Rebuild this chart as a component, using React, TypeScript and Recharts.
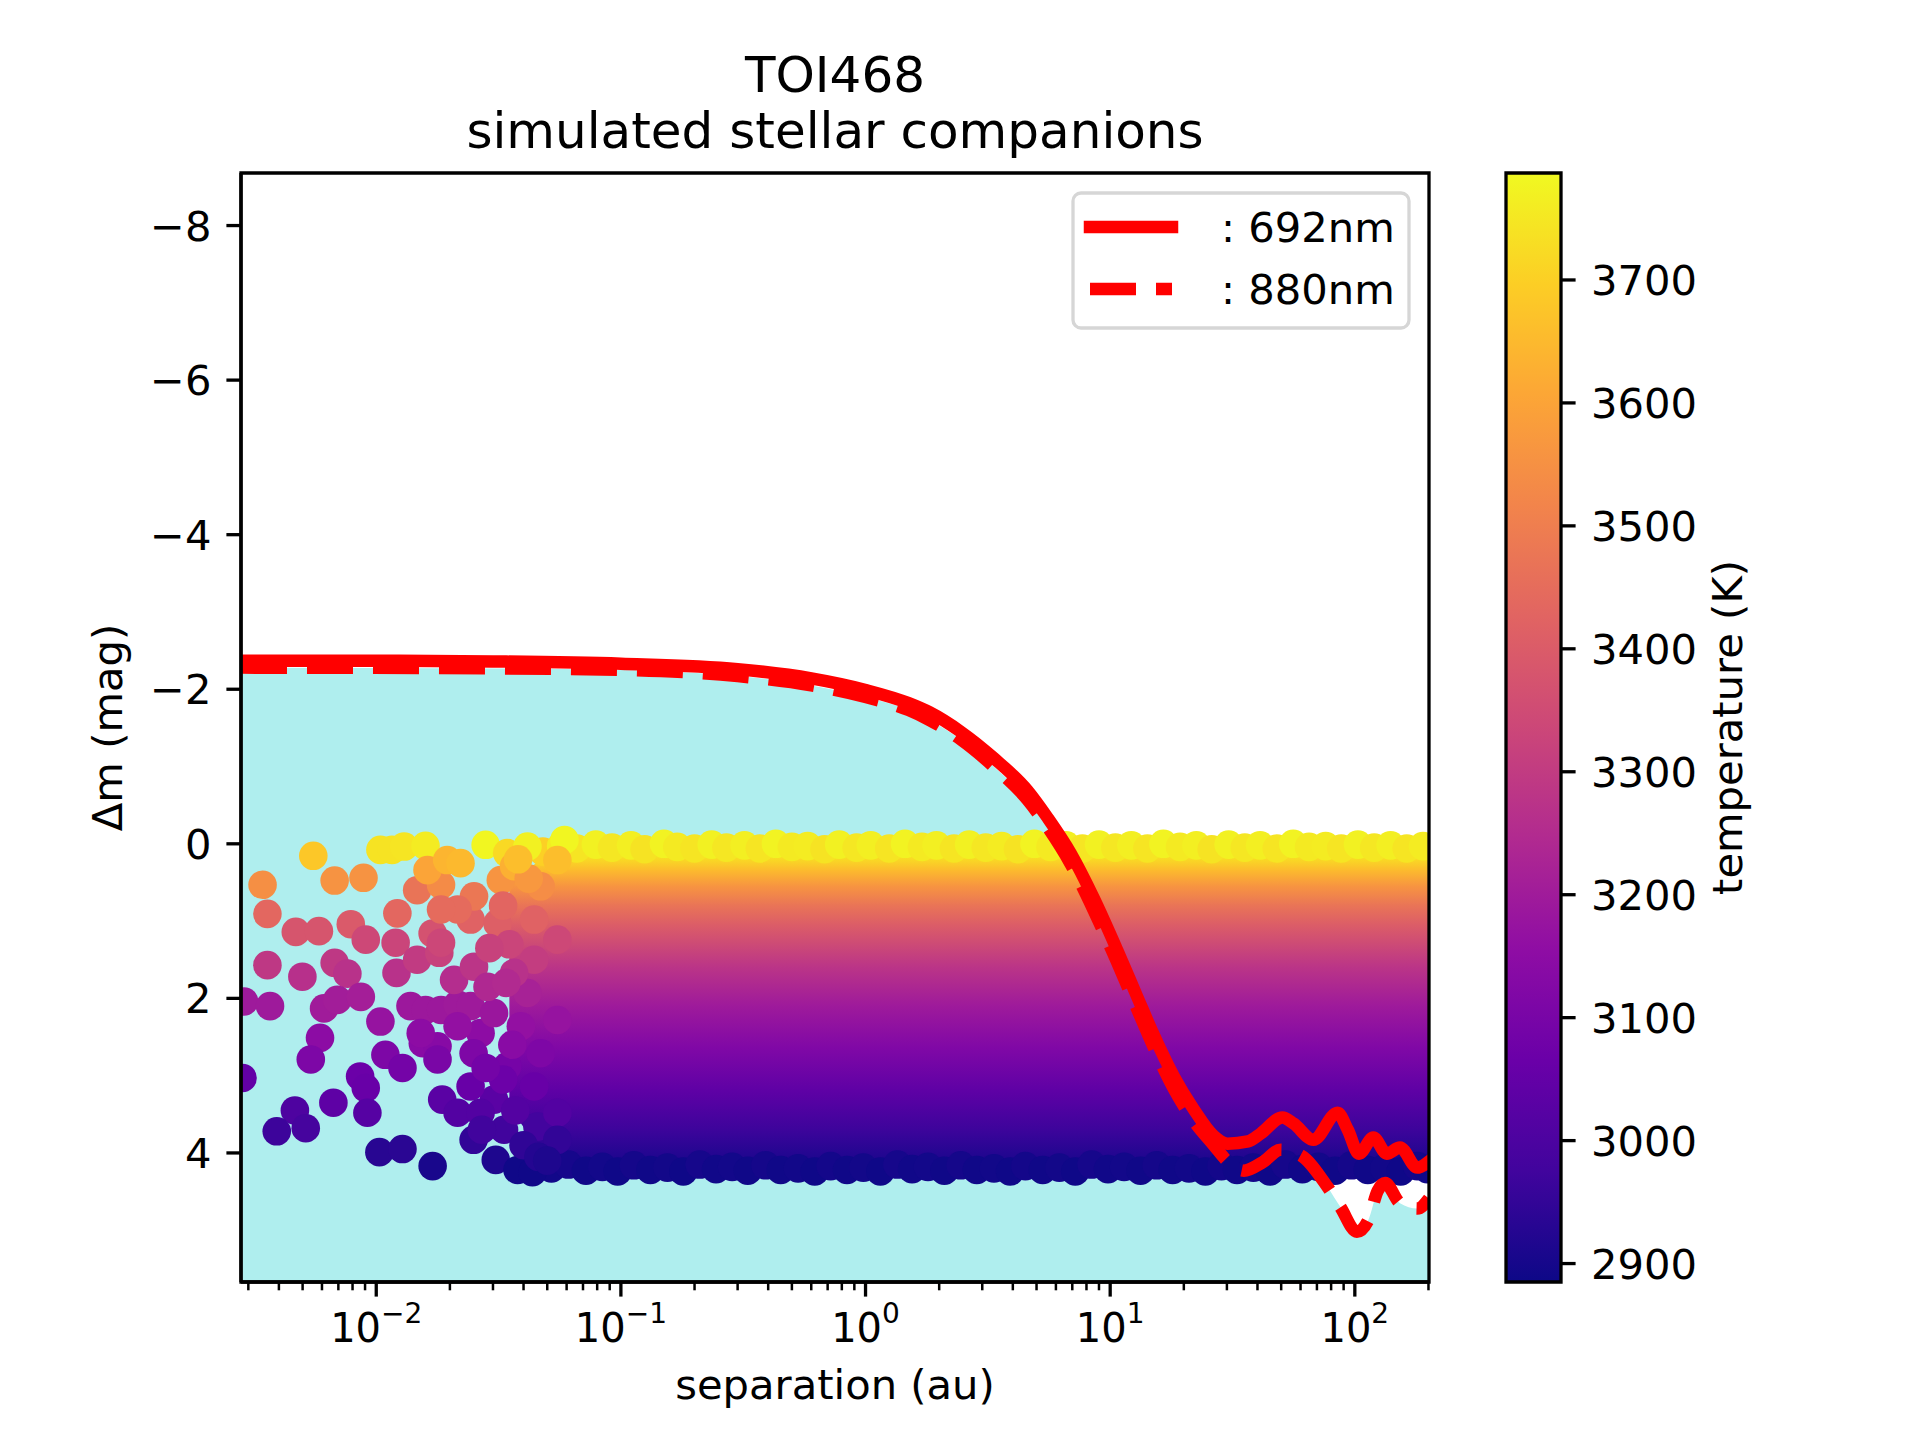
import React from 'react';
import { ComposedChart, Scatter, Line, Area, XAxis, YAxis, ReferenceArea } from 'recharts';

const FONT = "'DejaVu Sans', sans-serif";
const FS = 41.67;

// contrast curve at 692 nm (solid): separation (au) / delta mag
const sep692 = [0.0028, 0.01, 0.03, 0.1, 0.3, 0.6, 1.0, 1.5, 1.83, 2.45, 3.34, 4.59, 5.54, 6.89, 8.56, 10.7, 12.9, 15.0, 18.2, 21.9, 26.5, 30.2, 36.6, 41.2, 50.6, 56.2, 67.7, 85, 93.6, 104, 119, 135, 153, 180, 201];
const dm692 = [-2.37, -2.37, -2.36, -2.33, -2.26, -2.14, -1.99, -1.82, -1.7, -1.45, -1.11, -0.69, -0.34, 0.12, 0.7, 1.38, 1.98, 2.46, 3.01, 3.43, 3.78, 3.88, 3.85, 3.75, 3.54, 3.62, 3.83, 3.48, 3.7, 4.01, 3.8, 4.01, 3.93, 4.19, 4.11];

// contrast curve at 880 nm (dashed)
const sep880 = [0.0028, 0.03, 0.1, 0.3, 0.6, 1.0, 1.5, 1.83, 2.45, 3.34, 4.59, 5.54, 6.89, 8.56, 10.7, 12.9, 15.0, 18.2, 21.9, 26.5, 30, 35.2, 42, 49.8, 60, 77.3, 87.3, 102, 113.5, 124, 133, 153, 180, 201];
const dm880 = [-2.28, -2.27, -2.25, -2.17, -2.05, -1.9, -1.73, -1.6, -1.35, -1.0, -0.57, -0.22, 0.26, 0.86, 1.54, 2.14, 2.62, 3.17, 3.58, 3.9, 4.1, 4.23, 4.12, 3.96, 4.03, 4.44, 4.7, 5.02, 4.87, 4.49, 4.39, 4.65, 4.72, 4.59];

// simulated companions, sparse part at small separations
const sparseSep = [0.00553, 0.00343, 0.00676, 0.00887, 0.00359, 0.00469, 0.00583, 0.00787, 0.00906, 0.00676, 0.00359, 0.00499, 0.00762, 0.00612, 0.00288, 0.00368, 0.00693, 0.00865, 0.0104, 0.012, 0.0121, 0.0122, 0.0104, 0.0116, 0.013, 0.0159, 0.00589, 0.0054, 0.00859, 0.00906, 0.00668, 0.0092, 0.00465, 0.00515, 0.00392, 0.0103, 0.0128, 0.017, 0.00284, 0.0109, 0.0128, 0.0155, 0.0178, 0.0138, 0.0159, 0.0184, 0.0215, 0.0147, 0.0181, 0.017, 0.0147, 0.0184, 0.0162, 0.0195, 0.0221, 0.028, 0.0343, 0.0588, 0.0186, 0.0215, 0.025, 0.0308, 0.0378, 0.0435, 0.0333, 0.0456, 0.0303, 0.0178, 0.0267, 0.0243, 0.0303, 0.0208, 0.0251, 0.0184, 0.0243, 0.0313, 0.0251, 0.0323, 0.0442, 0.0442, 0.0415, 0.039, 0.0343, 0.047, 0.0442, 0.055, 0.055, 0.055, 0.047, 0.055, 0.055, 0.0152, 0.0366, 0.0285, 0.0215, 0.025, 0.0243, 0.0267, 0.0366, 0.0415, 0.0215, 0.0184, 0.033, 0.035, 0.034, 0.036, 0.033, 0.037, 0.04, 0.042, 0.038, 0.046, 0.05, 0.029, 0.028, 0.027];
const sparseDm = [0.155, 0.53, 0.475, 0.44, 0.906, 1.14, 1.13, 1.04, 1.24, 1.54, 1.57, 1.72, 1.68, 2.13, 2.04, 2.1, 2.02, 1.98, 2.3, 1.28, 1.67, 0.9, 0.078, 0.078, 0.035, 0.026, 2.51, 2.79, 3.01, 3.16, 3.35, 3.48, 3.45, 3.68, 3.72, 3.99, 3.95, 4.17, 3.03, 2.73, 2.9, 2.58, 2.62, 2.1, 2.15, 2.15, 2.08, 1.5, 1.41, 1.16, 0.6, 0.53, 0.34, 0.21, 0.25, 0.013, 0.12, -0.05, 3.31, 3.48, 3.83, 4.09, 4.22, 4.25, 3.7, 3.66, 3.31, 2.79, 2.45, 2.1, 2.19, 1.76, 1.59, 1.28, 0.98, 1.03, 0.68, 0.47, 0.98, 1.5, 1.93, 2.36, 2.88, 2.71, 3.14, 3.48, 3.83, 0.21, 0.55, 2.28, 1.24, 2.45, 1.67, 1.85, 2.36, 2.71, 3.14, 3.48, 0.29, 0.035, 0.85, 0.85, 0.8, 1.3, 1.8, 2.6, 3.05, 3.45, 3.9, 0.45, 0.2, 4.05, 4.1, 1.35, 2.9, 3.7];
const sparseTemp = [3680, 3545, 3555, 3555, 3435, 3380, 3380, 3395, 3340, 3290, 3290, 3265, 3270, 3200, 3195, 3195, 3205, 3210, 3175, 3330, 3270, 3435, 3740, 3740, 3745, 3760, 3148, 3112, 3067, 3060, 3040, 3022, 3003, 2986, 2968, 2932, 2935, 2905, 3050, 3112, 3090, 3140, 3135, 3190, 3190, 3190, 3195, 3300, 3320, 3370, 3470, 3535, 3600, 3640, 3650, 3780, 3720, 3780, 3030, 3015, 2950, 2915, 2890, 2890, 2975, 2980, 3030, 3105, 3150, 3195, 3185, 3255, 3280, 3335, 3420, 3410, 3480, 3560, 3420, 3305, 3220, 3165, 3095, 3115, 3060, 3015, 2950, 3660, 3540, 3175, 3340, 3150, 3270, 3240, 3165, 3115, 3060, 3015, 3630, 3770, 3445, 3445, 3430, 3330, 3245, 3140, 3070, 3018, 2945, 3570, 3660, 2925, 2915, 3320, 3090, 2975];

// upper edge of the dense cloud (brightest, hottest companions)
const topSep = [0.048, 0.057, 0.066, 0.079, 0.092, 0.11, 0.125, 0.15, 0.17, 0.2, 0.235, 0.27, 0.32, 0.37, 0.43, 0.5, 0.58, 0.68, 0.78, 0.92, 1.05, 1.25, 1.45, 1.7, 1.95, 2.3, 2.65, 3.1, 3.6, 4.2, 4.9, 5.7, 6.6, 7.7, 9.0, 10.5, 12.2, 14.2, 16.5, 19.3, 22.5, 26, 30.5, 35.5, 41, 48, 56, 65, 76, 88, 103, 120, 140, 163, 190];
const topDm = [0.1, 0.03, 0.06, 0.01, 0.05, 0.02, 0.07, 0.0, 0.04, 0.06, 0.01, 0.05, 0.02, 0.06, 0.0, 0.04, 0.03, 0.07, 0.01, 0.05, 0.02, 0.06, 0.0, 0.04, 0.02, 0.06, 0.01, 0.05, 0.03, 0.07, 0.0, 0.04, 0.02, 0.06, 0.01, 0.05, 0.02, 0.06, 0.0, 0.04, 0.02, 0.07, 0.01, 0.05, 0.02, 0.06, 0.0, 0.04, 0.03, 0.06, 0.01, 0.05, 0.02, 0.06, 0.03];
const topTemp = [3700, 3760, 3745, 3770, 3750, 3765, 3740, 3775, 3755, 3745, 3770, 3750, 3765, 3745, 3775, 3755, 3760, 3740, 3770, 3750, 3765, 3745, 3775, 3755, 3765, 3745, 3770, 3750, 3760, 3740, 3775, 3755, 3765, 3745, 3770, 3750, 3765, 3745, 3775, 3755, 3765, 3740, 3770, 3750, 3765, 3745, 3775, 3755, 3760, 3745, 3770, 3750, 3765, 3745, 3760];

// lower edge of the dense cloud (faintest, coolest companions)
const botSep = [0.052, 0.061, 0.072, 0.084, 0.097, 0.113, 0.132, 0.155, 0.18, 0.21, 0.245, 0.285, 0.33, 0.39, 0.45, 0.53, 0.62, 0.72, 0.84, 0.98, 1.15, 1.35, 1.55, 1.8, 2.1, 2.45, 2.85, 3.35, 3.9, 4.5, 5.3, 6.2, 7.2, 8.4, 9.8, 11.4, 13.3, 15.5, 18, 21, 24.5, 28.5, 33, 38.5, 45, 52, 61, 71, 83, 97, 113, 132, 154, 180, 198];
const botDm = [4.2, 4.15, 4.23, 4.18, 4.24, 4.16, 4.22, 4.19, 4.24, 4.15, 4.21, 4.18, 4.23, 4.16, 4.22, 4.2, 4.24, 4.17, 4.22, 4.19, 4.24, 4.15, 4.21, 4.18, 4.23, 4.16, 4.22, 4.2, 4.24, 4.17, 4.22, 4.19, 4.24, 4.15, 4.21, 4.18, 4.23, 4.16, 4.22, 4.2, 4.24, 4.17, 4.22, 4.19, 4.24, 4.15, 4.21, 4.18, 4.23, 4.16, 4.22, 4.2, 4.24, 4.17, 4.21];
const botTemp = [2893, 2900, 2890, 2896, 2888, 2899, 2891, 2895, 2888, 2900, 2892, 2896, 2890, 2899, 2891, 2893, 2888, 2897, 2891, 2895, 2888, 2900, 2892, 2896, 2890, 2899, 2891, 2893, 2888, 2897, 2891, 2895, 2888, 2900, 2892, 2896, 2890, 2899, 2891, 2893, 2888, 2897, 2891, 2895, 2888, 2900, 2892, 2896, 2890, 2899, 2891, 2893, 2888, 2897, 2892];

// dense core of the cloud between the two edges
const coreSep = [0.035, 0.045, 0.06, 201];
const coreTop = [0.5, 0.25, 0.04, 0.04];
const coreBottom = [3.4, 3.9, 4.18, 4.18];
// temperature seen across the core, by delta mag
const coreStopDm = [0.04, 0.2, 0.35, 0.55, 0.8, 1.06, 1.59, 2.1, 2.64, 3.2, 3.7, 4.18];
const coreStopTemp = [3775, 3720, 3650, 3560, 3470, 3400, 3280, 3195, 3120, 3040, 2968, 2900];

const xMajor = [0.01, 0.1, 1, 10, 100];
const xMinor = [0.003, 0.004, 0.005, 0.006, 0.007, 0.008, 0.009, 0.02, 0.03, 0.04, 0.05, 0.06, 0.07, 0.08, 0.09, 0.2, 0.3, 0.4, 0.5, 0.6, 0.7, 0.8, 0.9, 2, 3, 4, 5, 6, 7, 8, 9, 20, 30, 40, 50, 60, 70, 80, 90, 200];
const yTicks = [-8, -6, -4, -2, 0, 2, 4];
const tempTicks = [2900, 3000, 3100, 3200, 3300, 3400, 3500, 3600, 3700];

const X_MIN = 0.0028;
const X_MAX = 201;
const Y_MIN = -8.68;
const Y_MAX = 5.67;
const T_MIN = 2885;
const T_MAX = 3787;
const DOT_R = 14.3;

const PLASMA = ['#0d0887', '#41049d', '#6a00a8', '#8f0da4', '#b12a90', '#cc4778', '#e16462', '#f2844b', '#fca636', '#fcce25', '#f0f921'];

const hexRgb = (h: string) => [1, 3, 5].map((i) => parseInt(h.slice(i, i + 2), 16));

function plasma(f: number) {
  const x = Math.min(1, Math.max(0, f)) * 10;
  const i = Math.min(9, Math.floor(x));
  const u = x - i;
  const a = hexRgb(PLASMA[i]);
  const b = hexRgb(PLASMA[i + 1]);
  return `rgb(${a.map((v, k) => Math.round(v + (b[k] - v) * u)).join(',')})`;
}

const tempColor = (t: number) => plasma((t - T_MIN) / (T_MAX - T_MIN));

const curve692 = sep692.map((s, i) => ({ sep: s, dm: dm692[i] }));
const curve880 = sep880.map((s, i) => ({ sep: s, dm: dm880[i] }));
const core = coreSep.map((s, i) => ({ sep: s, dm: [coreTop[i], coreBottom[i]] }));
const stars = [
  ...botSep.map((s, i) => ({ sep: s, dm: botDm[i], t: botTemp[i] })),
  ...topSep.map((s, i) => ({ sep: s, dm: topDm[i], t: topTemp[i] })),
  ...sparseSep.map((s, i) => ({ sep: s, dm: sparseDm[i], t: sparseTemp[i] })),
];

const coreLo = Math.min(...coreTop);
const coreHi = Math.max(...coreBottom);

const minus = (v: number) => (v < 0 ? '\u2212' + Math.abs(v) : String(v));

const Dot = (p: any) => {
  const t = p.t ?? p.payload?.t ?? 3300;
  return <circle cx={p.cx} cy={p.cy} r={DOT_R} fill={tempColor(t)} />;
};

const XTick = (p: any) => {
  const v = p.payload.value;
  const major = xMajor.includes(v);
  const exp = Math.round(Math.log10(v));
  return (
    <g>
      <line x1={p.x} x2={p.x} y1={p.y} y2={p.y + (major ? 14.6 : 8.3)} stroke="#000" strokeWidth={major ? 3.3 : 2.5} />
      {major && (
        <text x={p.x} y={p.y + 60} textAnchor="middle" fontFamily={FONT} fontSize={40} fill="#000">
          10
          <tspan dy={-19} fontSize={28}>{minus(exp)}</tspan>
        </text>
      )}
    </g>
  );
};

const YTick = (p: any) => (
  <g>
    <line x1={p.x - 14.6} x2={p.x} y1={p.y} y2={p.y} stroke="#000" strokeWidth={3.3} />
    <text x={p.x - 29.5} y={p.y + 15} textAnchor="end" fontFamily={FONT} fontSize={FS} fill="#000">
      {minus(p.payload.value)}
    </text>
  </g>
);

const CbTick = (p: any) => (
  <g>
    <line x1={p.x} x2={p.x + 14.6} y1={p.y} y2={p.y} stroke="#000" strokeWidth={3.3} />
    <text x={p.x + 30} y={p.y + 15} textAnchor="start" fontFamily={FONT} fontSize={FS} fill="#000">
      {p.payload.value}
    </text>
  </g>
);

const frame = { stroke: '#000', strokeWidth: 3.3 };

export default function App() {
  return (
    <div style={{ position: 'absolute', left: 0, top: 0, width: 1920, height: 1440, background: '#fff', fontFamily: FONT }}>
      <div style={{ position: 'absolute', left: 0, top: 0 }}>
        <ComposedChart width={1920} height={1440} margin={{ top: 173, right: 491, bottom: 0, left: 0 }}>
          <defs>
            <linearGradient id="coreGrad" x1="0" y1="0" x2="0" y2="1">
              {coreStopDm.map((d, i) => (
                <stop key={i} offset={(d - coreLo) / (coreHi - coreLo)} stopColor={tempColor(coreStopTemp[i])} />
              ))}
            </linearGradient>
          </defs>
          <Area data={curve880} dataKey="dm" type="monotone" baseValue={Y_MAX} fill="#afeeee" fillOpacity={1} stroke="none" isAnimationActive={false} zIndex={100} />
          <Area data={core} dataKey="dm" type="linear" fill="url(#coreGrad)" fillOpacity={1} stroke="none" isAnimationActive={false} zIndex={110} />
          <Scatter data={stars} dataKey="dm" shape={Dot} isAnimationActive={false} zIndex={300} />
          <Line data={curve880} dataKey="dm" type="monotone" stroke="#ff0000" strokeWidth={12.5} strokeDasharray="46 20" strokeLinecap="butt" strokeLinejoin="round" dot={false} activeDot={false} isAnimationActive={false} zIndex={400} />
          <Line data={curve692} dataKey="dm" type="monotone" stroke="#ff0000" strokeWidth={12.5} strokeLinecap="square" strokeLinejoin="round" dot={false} activeDot={false} isAnimationActive={false} zIndex={410} />
          <XAxis dataKey="sep" type="number" scale="log" domain={[X_MIN, X_MAX]} allowDataOverflow ticks={[...xMajor, ...xMinor]} interval={0} tick={XTick} tickLine={false} tickSize={0} tickMargin={0} axisLine={frame} height={158} />
          <YAxis type="number" domain={[Y_MIN, Y_MAX]} reversed allowDataOverflow ticks={yTicks} interval={0} tick={YTick} tickLine={false} tickSize={0} tickMargin={0} axisLine={frame} width={241} />
          <ReferenceArea x1={X_MIN} x2={X_MAX} y1={Y_MIN} y2={Y_MAX} ifOverflow="visible" fill="none" fillOpacity={0} stroke="#000" strokeWidth={3.3} zIndex={600} />
        </ComposedChart>
      </div>

      <div style={{ position: 'absolute', left: 0, top: 0 }}>
        <ComposedChart width={1920} height={1440} data={[{ x: 0 }, { x: 1 }]} margin={{ top: 173, right: 59, bottom: 158, left: 1506 }}>
          <defs>
            <linearGradient id="cbGrad" x1="0" y1="1" x2="0" y2="0">
              {PLASMA.map((c, i) => (
                <stop key={i} offset={i / (PLASMA.length - 1)} stopColor={c} />
              ))}
            </linearGradient>
          </defs>
          <XAxis dataKey="x" type="number" domain={[0, 1]} hide height={0} />
          <YAxis orientation="right" type="number" domain={[T_MIN, T_MAX]} allowDataOverflow ticks={tempTicks} interval={0} tick={CbTick} tickLine={false} tickSize={0} tickMargin={0} axisLine={false} width={300} />
          <ReferenceArea y1={T_MIN} y2={T_MAX} fill="url(#cbGrad)" fillOpacity={1} stroke="#000" strokeWidth={3.3} />
        </ComposedChart>
      </div>

      <svg width={1920} height={1440} style={{ position: 'absolute', left: 0, top: 0, pointerEvents: 'none' }} fontFamily={FONT}>
        <text x={835} y={92} textAnchor="middle" fontSize={50}>TOI468</text>
        <text x={835} y={148} textAnchor="middle" fontSize={50}>simulated stellar companions</text>
        <text x={835} y={1399} textAnchor="middle" fontSize={FS}>separation (au)</text>
        <text x={122} y={727.5} transform="rotate(-90 122 727.5)" textAnchor="middle" fontSize={FS}>Δm (mag)</text>
        <text x={1742} y={727.5} transform="rotate(-90 1742 727.5)" textAnchor="middle" fontSize={FS}>temperature (K)</text>

        <rect x={1073} y={193} width={336} height={135} rx={8} fill="#fff" fillOpacity={0.8} stroke="#d6d6d6" strokeWidth={3.3} />
        <line x1={1090} x2={1172} y1={227} y2={227} stroke="#ff0000" strokeWidth={12.5} strokeLinecap="square" />
        <line x1={1090} x2={1172} y1={289} y2={289} stroke="#ff0000" strokeWidth={12.5} strokeDasharray="46 20" />
        <text x={1221} y={242} fontSize={FS}>: 692nm</text>
        <text x={1221} y={304} fontSize={FS}>: 880nm</text>
      </svg>
    </div>
  );
}
